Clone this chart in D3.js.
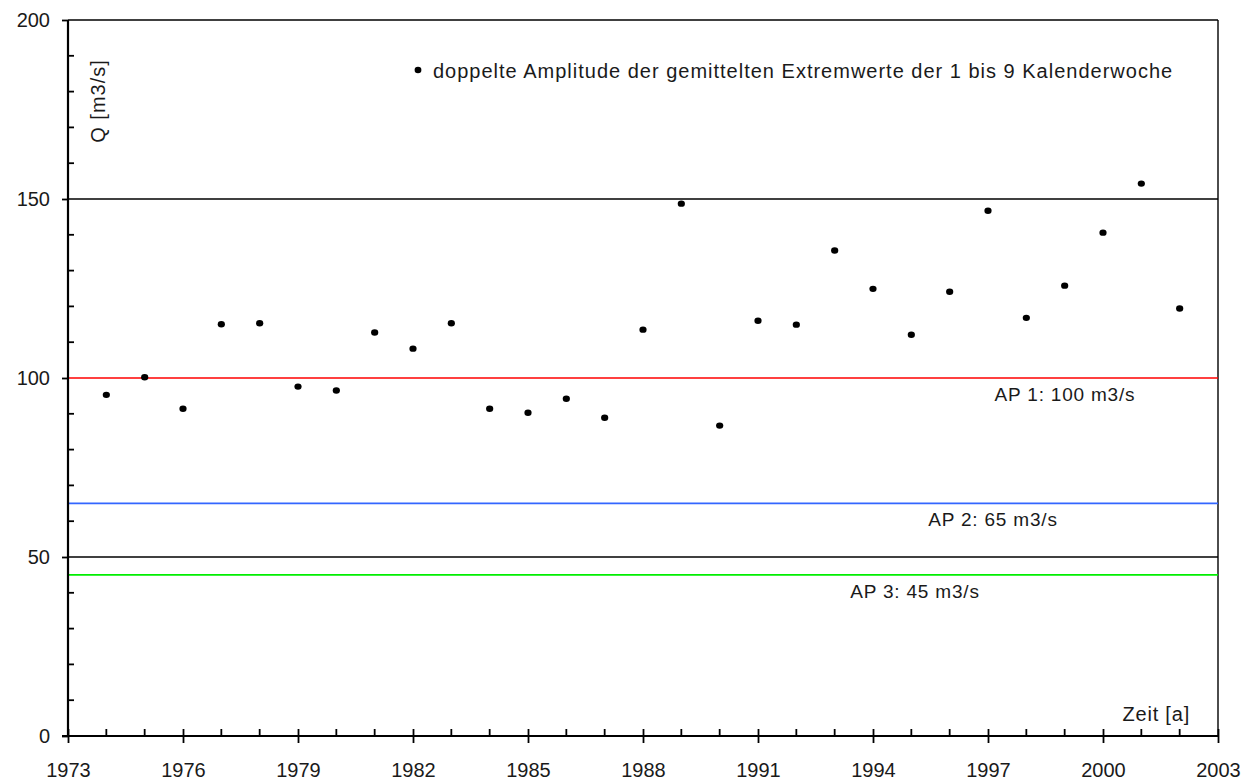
<!DOCTYPE html>
<html>
<head>
<meta charset="utf-8">
<script src="https://cdn.jsdelivr.net/npm/d3@7/dist/d3.min.js"></script>
<style>
  html, body { margin: 0; padding: 0; background: #fff; }
  svg { display: block; font-family: "Liberation Sans", Arial, sans-serif; }
</style>
</head>
<body>
<svg id="chart" width="1244" height="782"></svg>
<script>
// Jahre und doppelte Amplitude der gemittelten Extremwerte (KW 1-9) in m3/s
const years = [1974, 1975, 1976, 1977, 1978, 1979, 1980, 1981, 1982, 1983,
               1984, 1985, 1986, 1987, 1988, 1989, 1990, 1991, 1992, 1993,
               1994, 1995, 1996, 1997, 1998, 1999, 2000, 2001, 2002];
const amplitude = [95.3, 100.2, 91.4, 115.0, 115.3, 97.6, 96.5, 112.7, 108.2, 115.3,
                   91.4, 90.3, 94.2, 88.9, 113.5, 148.7, 86.7, 116.0, 114.9, 135.6,
                   124.9, 112.1, 124.1, 146.7, 116.8, 125.8, 140.6, 154.3, 119.4];

// Abflussgrenzen (Alarmpegel)
const apNames = ["AP 1: 100 m3/s", "AP 2: 65 m3/s", "AP 3: 45 m3/s"];
const apValues = [100, 65, 45];
const apColors = ["#ff0000", "#3366ff", "#00ee00"];

const xTickYears = [1973, 1976, 1979, 1982, 1985, 1988, 1991, 1994, 1997, 2000, 2003];
const yTickValues = [0, 50, 100, 150, 200];
const gridValues = [50, 150, 200];

const legendText = "doppelte Amplitude der gemittelten Extremwerte der 1 bis 9 Kalenderwoche";
const yTitle = "Q [m3/s]";
const xTitle = "Zeit [a]";

const svg = d3.select("#chart");
const plotLeft = 68, plotRight = 1218, plotTop = 20, plotBottom = 736;

const x = d3.scaleLinear().domain([1973, 2003]).range([plotLeft, plotRight]);
const y = d3.scaleLinear().domain([0, 200]).range([plotBottom, plotTop]);

const textColor = "#1a1a1a";

// Gitternetzlinien
svg.append("g").selectAll("line").data(gridValues).join("line")
  .attr("x1", plotLeft).attr("x2", plotRight)
  .attr("y1", d => y(d)).attr("y2", d => y(d))
  .attr("stroke", "#000").attr("stroke-width", 1.4);

// Rechter Rahmen
svg.append("line")
  .attr("x1", plotRight).attr("x2", plotRight).attr("y1", y(200)).attr("y2", y(0))
  .attr("stroke", "#000").attr("stroke-width", 1.4);

// Alarmpegel-Linien
svg.append("g").selectAll("line").data(apValues).join("line")
  .attr("x1", plotLeft).attr("x2", plotRight)
  .attr("y1", d => y(d)).attr("y2", d => y(d))
  .attr("stroke", (d, i) => apColors[i]).attr("stroke-width", 1.7);

// Beschriftungen der Alarmpegel
const apLabelX = [1065, 993, 915];
svg.append("g").selectAll("text").data(apValues).join("text")
  .attr("x", (d, i) => apLabelX[i])
  .attr("y", d => y(d) + 23)
  .attr("text-anchor", "middle")
  .attr("font-size", 19)
  .attr("letter-spacing", 0.8)
  .attr("fill", textColor)
  .text((d, i) => apNames[i]);

// Y-Achse: Hauptstriche nach außen, Nebenstriche nach innen
const yAxis = d3.axisLeft(y).tickValues(yTickValues).tickSize(6).tickPadding(12)
  .tickFormat(d3.format("d"));
const gy = svg.append("g").attr("transform", `translate(${plotLeft},0)`).call(yAxis);
gy.select(".domain").attr("stroke-width", 2.2).attr("d", `M0,${y(200)}V${y(0)}`);
gy.selectAll(".tick line").attr("stroke-width", 1.8);
gy.selectAll(".tick text").attr("font-size", 20).attr("fill", textColor)
  .attr("font-family", "Liberation Sans, Arial, sans-serif");
const yMinor = d3.range(10, 200, 10).filter(v => v % 50 !== 0);
svg.append("g").selectAll("line").data(yMinor).join("line")
  .attr("x1", plotLeft).attr("x2", plotLeft + 6)
  .attr("y1", d => y(d)).attr("y2", d => y(d))
  .attr("stroke", "#000").attr("stroke-width", 1.8);

// X-Achse: Hauptstriche kreuzen die Achse, Nebenstriche nach innen
const xAxis = d3.axisBottom(x).tickValues(xTickYears).tickSize(7).tickPadding(20)
  .tickFormat(d3.format("d"));
const gx = svg.append("g").attr("transform", `translate(0,${plotBottom})`).call(xAxis);
gx.select(".domain").attr("stroke-width", 2.2).attr("d", `M${plotLeft - 6},0H${plotRight}`);
gx.selectAll(".tick line").attr("stroke-width", 1.8).attr("y1", -7);
gx.selectAll(".tick text").attr("font-size", 20).attr("fill", textColor)
  .attr("font-family", "Liberation Sans, Arial, sans-serif");
const xMinor = d3.range(1974, 2003).filter(v => (v - 1973) % 3 !== 0);
svg.append("g").selectAll("line").data(xMinor).join("line")
  .attr("x1", d => x(d)).attr("x2", d => x(d))
  .attr("y1", plotBottom).attr("y2", plotBottom - 7)
  .attr("stroke", "#000").attr("stroke-width", 1.8);

// Messpunkte
svg.append("g").selectAll("ellipse").data(years).join("ellipse")
  .attr("cx", d => x(d))
  .attr("cy", (d, i) => y(amplitude[i]))
  .attr("rx", 3.6).attr("ry", 3.2)
  .attr("fill", "#000");

// Legende
svg.append("ellipse").attr("cx", 418).attr("cy", 70).attr("rx", 3.4).attr("ry", 3.2).attr("fill", "#000");
svg.append("text").attr("x", 433).attr("y", 78)
  .attr("font-size", 20).attr("letter-spacing", 1)
  .attr("fill", textColor).text(legendText);

// Achsentitel
svg.append("text")
  .attr("transform", `translate(${105},${101}) rotate(-90)`)
  .attr("text-anchor", "middle")
  .attr("font-size", 20).attr("letter-spacing", 1)
  .attr("fill", textColor).text(yTitle);
svg.append("text").attr("x", 1190).attr("y", 721).attr("text-anchor", "end")
  .attr("font-size", 20).attr("letter-spacing", 0.8)
  .attr("fill", textColor).text(xTitle);
</script>
</body>
</html>
